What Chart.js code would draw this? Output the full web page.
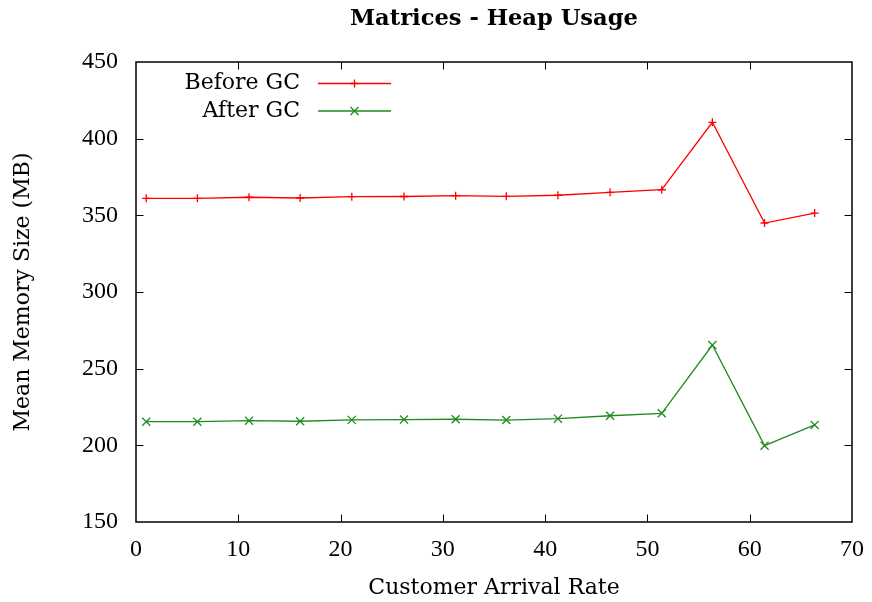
<!DOCTYPE html>
<html>
<head>
<meta charset="utf-8">
<script src="https://cdn.jsdelivr.net/npm/chart.js@4/dist/chart.umd.min.js"></script>
<style>
html,body{margin:0;padding:0;background:#fff;}
canvas{display:block;}
</style>
</head>
<body>
<canvas id="c" width="872" height="602"></canvas>
<script>
const arrivalRate = [1.0, 6.0, 11.05, 16.05, 21.1, 26.2, 31.25, 36.2, 41.25, 46.35, 51.4, 56.35, 61.45, 66.35];
const beforeGC = [361.1, 361.1, 361.8, 361.3, 362.2, 362.3, 362.8, 362.4, 363.1, 365.0, 366.7, 410.7, 345.0, 351.5];
const afterGC  = [215.4, 215.4, 216.1, 215.7, 216.6, 216.8, 217.0, 216.5, 217.4, 219.3, 220.9, 265.4, 199.8, 213.3];
const xTicks = [0, 10, 20, 30, 40, 50, 60, 70];
const yTicks = [150, 200, 250, 300, 350, 400, 450];
const seriesNames = ['Before GC', 'After GC'];
const titleText = 'Matrices - Heap Usage';
const xTitle = 'Customer Arrival Rate';
const yTitle = 'Mean Memory Size (MB)';

const RED = '#ff0000';
const GREEN = '#1f8a1f';
const TEXT_FONT = '"DejaVu Serif", serif';
const NUM_FONT = '"Liberation Serif", serif';

function pts(xs, ys){ return xs.map((x,i)=>({x:x, y:ys[i]})); }

const frame = {
  id: 'frame',
  afterLayout(chart){
    const a = chart.chartArea;
    if (chart.titleBlock) { chart.titleBlock.left = a.left; chart.titleBlock.right = a.right; }
  },
  afterDatasetsDraw(chart){
    const {ctx, chartArea:a} = chart;
    const xs = chart.scales.x, ys = chart.scales.y;
    ctx.save();
    ctx.strokeStyle = '#000';
    ctx.lineWidth = 1;
    const tl = 7.5;
    ctx.beginPath();
    xTicks.forEach(v=>{
      const px = Math.round(xs.getPixelForValue(v))+0.5;
      if (v!==xTicks[0] && v!==xTicks[xTicks.length-1]) {
        ctx.moveTo(px, a.bottom); ctx.lineTo(px, a.bottom-tl);
        ctx.moveTo(px, a.top); ctx.lineTo(px, a.top+tl);
      }
    });
    yTicks.forEach(v=>{
      const py = Math.round(ys.getPixelForValue(v))+0.5;
      if (v!==yTicks[0] && v!==yTicks[yTicks.length-1]) {
        ctx.moveTo(a.left, py); ctx.lineTo(a.left+tl, py);
        ctx.moveTo(a.right, py); ctx.lineTo(a.right-tl, py);
      }
    });
    ctx.stroke();
    ctx.lineWidth = 1.5;
    ctx.strokeRect(a.left, a.top, a.right-a.left, a.bottom-a.top);

    // legend (inside, top-left, text right-aligned with sample to the right)
    const rows = [
      {name: seriesNames[0], color: RED, style: 'cross', y: 83.5},
      {name: seriesNames[1], color: GREEN, style: 'crossRot', y: 111}
    ];
    ctx.font = '22px ' + TEXT_FONT;
    ctx.textAlign = 'right';
    ctx.textBaseline = 'middle';
    rows.forEach(r=>{
      ctx.fillStyle = '#000';
      ctx.fillText(r.name, 300, r.y);
      ctx.strokeStyle = r.color;
      ctx.lineWidth = 1.3;
      ctx.beginPath();
      ctx.moveTo(318, r.y); ctx.lineTo(391, r.y);
      ctx.stroke();
      const cx = 354.5;
      ctx.beginPath();
      if (r.style==='cross') {
        ctx.moveTo(cx-4, r.y); ctx.lineTo(cx+4, r.y);
        ctx.moveTo(cx, r.y-4); ctx.lineTo(cx, r.y+4);
      } else {
        ctx.moveTo(cx-4, r.y-4); ctx.lineTo(cx+4, r.y+4);
        ctx.moveTo(cx-4, r.y+4); ctx.lineTo(cx+4, r.y-4);
      }
      ctx.stroke();
    });
    ctx.restore();
  }
};

new Chart(document.getElementById('c'), {
  type: 'line',
  data: {
    datasets: [
      {label: seriesNames[0], data: pts(arrivalRate, beforeGC), borderColor: RED, backgroundColor: RED,
       borderWidth: 1.3, pointStyle: 'cross', pointRadius: 4, pointBorderWidth: 1.3, tension: 0, fill: false},
      {label: seriesNames[1], data: pts(arrivalRate, afterGC), borderColor: GREEN, backgroundColor: GREEN,
       borderWidth: 1.3, pointStyle: 'crossRot', pointRadius: 5.7, pointBorderWidth: 1.3, tension: 0, fill: false}
    ]
  },
  options: {
    responsive: false,
    animation: false,
    events: [],
    layout: {padding: {left: 0, right: 20, top: 0, bottom: 0}},
    plugins: {
      legend: {display: false},
      tooltip: {enabled: false},
      title: {display: true, text: titleText, color: '#000',
        font: {family: TEXT_FONT, size: 22.6, weight: 'bold', lineHeight: 1.2},
        padding: {top: 5.5, bottom: 29.4}}
    },
    scales: {
      x: {type: 'linear', min: 0, max: 70,
        afterFit: s => { s.height = 80; s.paddingLeft = 0; s.paddingRight = 0; },
        afterBuildTicks: s => { s.ticks = xTicks.map(v=>({value:v})); },
        grid: {display: false, drawTicks: false},
        border: {display: false},
        ticks: {color: '#000', padding: 13, maxRotation: 0, autoSkip: false,
          font: {family: NUM_FONT, size: 24}},
        title: {display: true, text: xTitle, color: '#000',
          font: {family: TEXT_FONT, size: 22}, padding: {top: 0, bottom: 1}}
      },
      y: {type: 'linear', min: 150, max: 450,
        afterFit: s => { s.width = 136; s.paddingTop = 0; s.paddingBottom = 0; },
        afterBuildTicks: s => { s.ticks = yTicks.map(v=>({value:v})); },
        grid: {display: false, drawTicks: false},
        border: {display: false},
        ticks: {color: '#000', padding: 18, autoSkip: false,
          font: {family: NUM_FONT, size: 24}},
        title: {display: true, text: yTitle, color: '#000',
          font: {family: TEXT_FONT, size: 22}, padding: {top: 10, bottom: 0}}
      }
    }
  },
  plugins: [frame]
});
</script>
</body>
</html>
